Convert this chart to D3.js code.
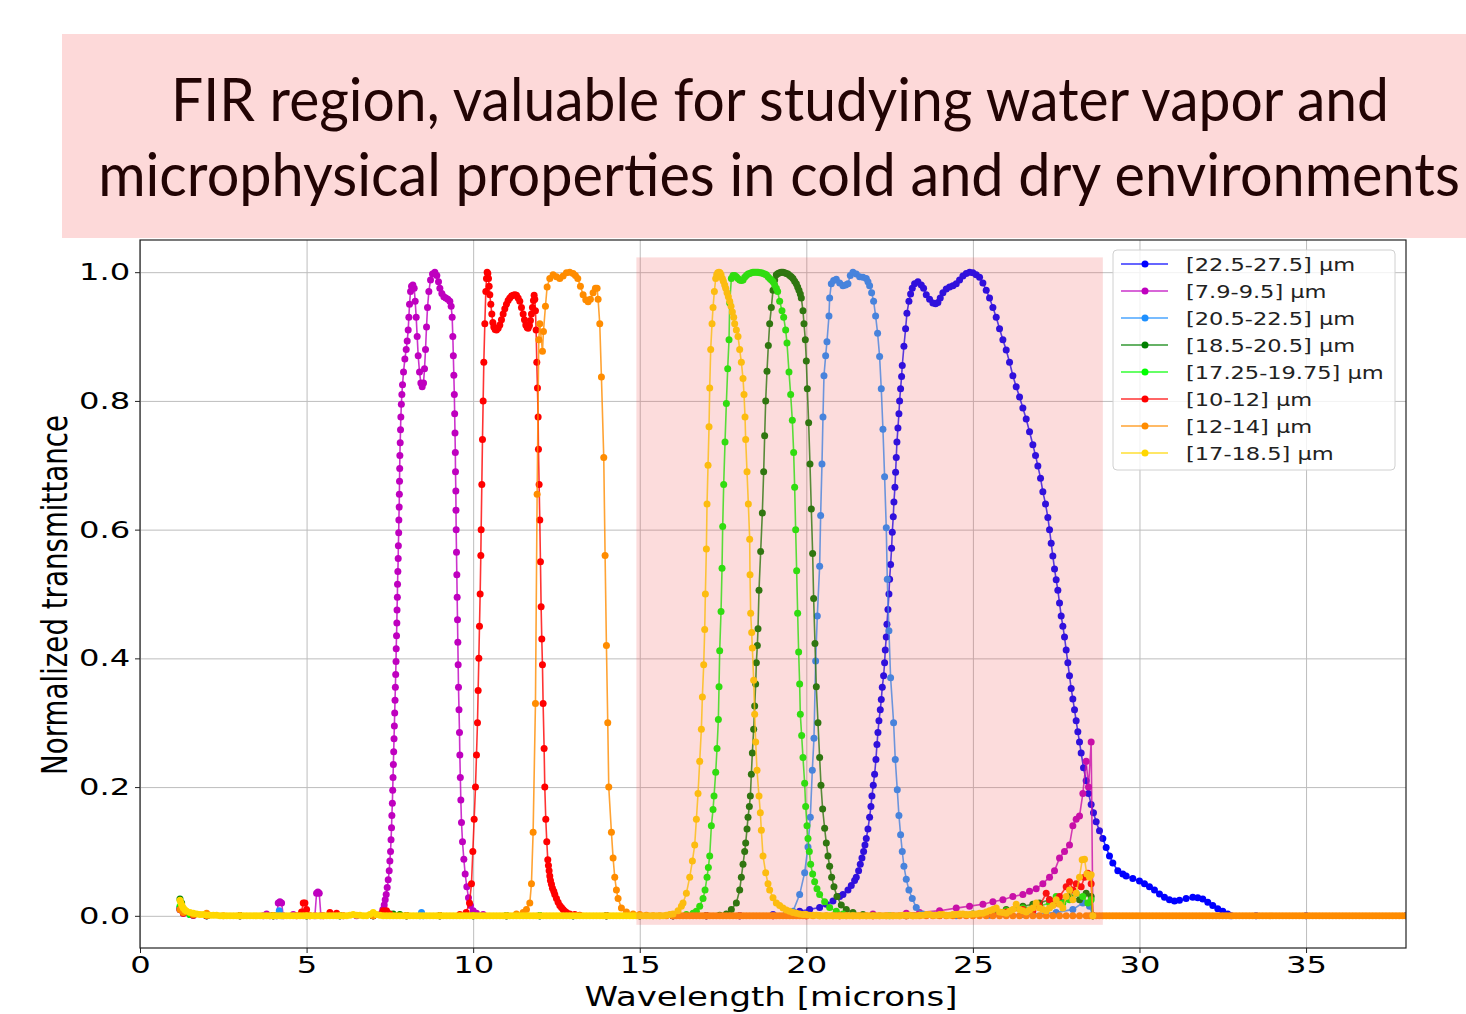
<!DOCTYPE html>
<html><head><meta charset="utf-8">
<script src="https://cdn.jsdelivr.net/npm/d3@7"></script>
<style>body{margin:0;background:#fff;} svg{display:block}</style>
</head><body>
<svg id="chart" width="1466" height="1014"></svg>
<script>
// ---------- DATA ----------
const titleLines = ["FIR region, valuable for studying water vapor and",
                    "microphysical properties in cold and dry environments"];
const xLabel = "Wavelength [microns]";
const yLabel = "Normalized transmittance";
const xTicks = [0, 5, 10, 15, 20, 25, 30, 35];
const yTicks = [0.0, 0.2, 0.4, 0.6, 0.8, 1.0];
const xDomain = [0, 38];
const yDomain = [-0.05, 1.05];
const firBandX = [14.9, 28.9];
const firBandY = [-0.014, 1.023];

const seriesNames = ["[22.5-27.5] µm", "[7.9-9.5] µm", "[20.5-22.5] µm", "[18.5-20.5] µm",
                     "[17.25-19.75] µm", "[10-12] µm", "[12-14] µm", "[17-18.5] µm"];

const band_22_5_27_5 = [[1.2,0.012],[1.3,0.006],[1.5,0.002],[2,0],[3,0],[4,0],[5,0],[6,0],[7,0],[8,0],[9,0],[10,0],[11,0],[12,0],[13,0],[14,0],[15,0],[16,0],[17,0],[18,0],[19,0.002],
[19.6,0.004],[19.8,0.007],[20.1,0.01],[20.4,0.013],[20.6,0.018],[20.8,0.023],[21.0,0.03],[21.1,0.033],[21.25,0.04],[21.35,0.047],[21.45,0.055],[21.5,0.06],[21.57,0.07],[21.62,0.08],[21.67,0.09],[21.72,0.1],[21.76,0.11],[21.8,0.12],[21.85,0.135],[21.9,0.153],[21.94,0.17],[21.97,0.186],[22.01,0.203],[22.05,0.22],[22.09,0.243],[22.12,0.266],[22.15,0.285],[22.18,0.303],[22.22,0.32],[22.25,0.336],[22.28,0.355],[22.32,0.373],[22.35,0.393],[22.37,0.413],[22.4,0.433],[22.42,0.453],[22.45,0.476],[22.48,0.5],[22.5,0.523],[22.53,0.546],[22.56,0.571],[22.58,0.596],[22.61,0.62],[22.63,0.643],[22.66,0.666],[22.68,0.689],[22.7,0.712],[22.72,0.736],[22.75,0.758],[22.78,0.78],[22.8,0.8],[22.83,0.819],[22.86,0.838],[22.88,0.855],[22.93,0.885],[22.98,0.912],[23.02,0.936],[23.08,0.955],[23.13,0.966],[23.18,0.975],[23.25,0.982],[23.35,0.985],[23.45,0.98],[23.52,0.975],[23.6,0.965],[23.7,0.958],[23.8,0.952],[23.88,0.951],[23.95,0.953],[24.02,0.96],[24.1,0.968],[24.2,0.974],[24.3,0.977],[24.4,0.979],[24.5,0.982],[24.6,0.988],[24.7,0.994],[24.8,0.998],[24.9,1.0],[25.0,0.999],[25.1,0.996],[25.2,0.992],[25.3,0.983],[25.4,0.972],[25.5,0.96],[25.6,0.945],[25.7,0.93],[25.8,0.912],[25.9,0.895],[26.0,0.879],[26.1,0.86],[26.2,0.839],[26.3,0.822],[26.4,0.806],[26.5,0.789],[26.6,0.772],[26.7,0.752],[26.8,0.732],[26.88,0.715],[26.95,0.699],[27.03,0.68],[27.1,0.659],[27.18,0.64],[27.25,0.619],[27.3,0.6],[27.35,0.579],[27.4,0.559],[27.45,0.539],[27.5,0.522],[27.55,0.506],[27.6,0.486],[27.65,0.466],[27.7,0.45],[27.75,0.433],[27.8,0.413],[27.85,0.393],[27.9,0.373],[27.95,0.353],[28.0,0.337],[28.05,0.32],[28.1,0.303],[28.15,0.286],[28.2,0.27],[28.25,0.253],[28.32,0.23],[28.4,0.21],[28.47,0.19],[28.55,0.173],[28.62,0.16],[28.7,0.146],[28.8,0.132],[28.9,0.12],[29.0,0.106],[29.1,0.093],[29.2,0.082],[29.35,0.07],[29.5,0.065],[29.6,0.062],[29.8,0.058],[30.0,0.054],[30.15,0.05],[30.3,0.045],[30.45,0.04],[30.6,0.034],[30.75,0.029],[30.9,0.025],[31.05,0.023],[31.2,0.024],[31.4,0.027],[31.6,0.029],[31.75,0.028],[31.9,0.026],[32.05,0.021],[32.2,0.016],[32.35,0.011],[32.5,0.007],[32.65,0.003],[32.75,0.0],[33.5,0],[35,0],[38,0]];

const band_7_9_9_5 = [[1.2,0.01],[1.3,0.004],[1.6,0.001],[2,0],[3,0],[3.7,0],[3.8,0.003],[3.9,0],[4.1,0],[4.15,0.02],[4.2,0.022],[4.25,0.02],[4.3,0],[4.6,0.002],[5.0,0],[5.25,0],[5.3,0.035],[5.34,0.037],[5.38,0.035],[5.43,0],[6,0],[6.5,0],[7.0,0.001],
[7.25,0.004],[7.29,0.01],[7.33,0.017],[7.36,0.025],[7.39,0.033],[7.42,0.044],[7.45,0.056],[7.48,0.07],[7.5,0.085],[7.52,0.1],[7.535,0.118],[7.55,0.137],[7.56,0.156],[7.575,0.175],[7.585,0.195],[7.595,0.215],[7.605,0.235],[7.615,0.255],[7.625,0.275],[7.635,0.295],[7.645,0.315],[7.655,0.335],[7.665,0.355],[7.675,0.375],[7.685,0.395],[7.69,0.415],[7.7,0.435],[7.71,0.455],[7.715,0.475],[7.725,0.495],[7.73,0.515],[7.74,0.535],[7.75,0.555],[7.755,0.575],[7.765,0.595],[7.77,0.615],[7.78,0.635],[7.785,0.655],[7.79,0.675],[7.795,0.695],[7.8,0.715],[7.81,0.735],[7.82,0.755],[7.83,0.775],[7.845,0.795],[7.86,0.81],[7.88,0.825],[7.91,0.845],[7.95,0.865],[7.99,0.88],[8.02,0.893],[8.05,0.91],[8.07,0.93],[8.09,0.95],[8.12,0.97],[8.15,0.978],[8.19,0.98],[8.23,0.975],[8.26,0.955],[8.29,0.93],[8.32,0.9],[8.35,0.87],[8.39,0.845],[8.43,0.828],[8.47,0.822],[8.51,0.828],[8.54,0.85],[8.57,0.88],[8.6,0.915],[8.63,0.945],[8.67,0.97],[8.72,0.988],[8.78,0.997],[8.85,1.0],[8.91,0.995],[8.96,0.985],[9.0,0.975],[9.06,0.967],[9.12,0.962],[9.18,0.96],[9.24,0.958],[9.3,0.955],[9.34,0.947],[9.37,0.93],[9.39,0.9],[9.405,0.87],[9.42,0.84],[9.435,0.81],[9.445,0.78],[9.455,0.75],[9.465,0.72],[9.47,0.69],[9.48,0.66],[9.485,0.63],[9.49,0.6],[9.5,0.565],[9.51,0.53],[9.52,0.495],[9.53,0.46],[9.54,0.425],[9.55,0.39],[9.56,0.355],[9.575,0.32],[9.59,0.285],[9.6,0.25],[9.615,0.215],[9.63,0.18],[9.65,0.145],[9.68,0.115],[9.72,0.088],[9.76,0.065],[9.81,0.045],[9.86,0.028],[9.92,0.016],[10.0,0.008],[10.1,0.004],[10.3,0.002],
[11,0],[12,0],[13,0],[14,0],[15,0],[16,0],[17,0],[18,0],[19,0],[20,0],[21.0,0.001],[22.0,0.003],[23.0,0.004],[23.4,0.005],[24.0,0.008],[24.5,0.012],[24.9,0.015],[25.3,0.018],[25.6,0.022],[25.9,0.025],[26.2,0.03],[26.5,0.033],[26.7,0.038],[26.9,0.042],[27.1,0.05],[27.3,0.06],[27.45,0.07],[27.6,0.09],[27.75,0.1],[27.9,0.11],[28.0,0.14],[28.1,0.15],[28.2,0.155],[28.3,0.19],[28.4,0.24],[28.47,0.2],[28.55,0.27],[28.6,0.0]];

const band_20_5_22_5 = [[1.2,0.01],[1.3,0.005],[1.6,0.001],[2,0],[3,0],[4,0],[4.1,0],[4.18,0.008],[4.25,0],[5,0],[6,0],[7,0],[8,0],[8.4,0],[8.45,0.005],[8.5,0],[9,0],[10,0],[11,0],[12,0],[13,0],[14,0],[15,0],[16,0],[17,0],[18,0],[19.0,0.001],[19.4,0.003],
[19.6,0.007],[19.8,0.033],[19.95,0.067],[20.05,0.107],[20.12,0.153],[20.18,0.226],[20.23,0.276],[20.28,0.396],[20.33,0.466],[20.4,0.543],[20.43,0.622],[20.47,0.702],[20.5,0.775],[20.53,0.839],[20.58,0.87],[20.62,0.892],[20.68,0.932],[20.7,0.96],[20.75,0.982],[20.82,0.987],[20.9,0.989],[21.0,0.983],[21.1,0.979],[21.18,0.98],[21.25,0.982],[21.32,0.995],[21.4,1.0],[21.5,0.997],[21.6,0.993],[21.7,0.992],[21.8,0.99],[21.85,0.985],[21.9,0.979],[21.96,0.968],[22.02,0.955],[22.08,0.932],[22.14,0.905],[22.2,0.869],[22.25,0.819],[22.3,0.756],[22.35,0.682],[22.4,0.603],[22.43,0.523],[22.48,0.443],[22.53,0.37],[22.62,0.3],[22.67,0.243],[22.73,0.196],[22.78,0.156],[22.83,0.126],[22.88,0.1],[22.93,0.077],[23.0,0.057],[23.08,0.04],[23.18,0.027],[23.3,0.013],[23.5,0.003],[23.8,0.001],
[24.5,0],[25.5,0.001],[26.5,0.002],[27.5,0.005],[28.0,0.01],[28.3,0.02],[28.5,0.015],[28.6,0]];

const band_18_5_20_5 = [[1.2,0.026],[1.25,0.02],[1.3,0.01],[1.5,0.003],[2,0],[3,0],[4,0],[5,0],[6,0],[7,0],[7.6,0.003],[7.8,0.002],[8,0],[9,0],[10,0],[11,0],[12,0],[13,0],[14,0],[15,0],[16,0],[17,0],[17.4,0.001],
[17.6,0.003],[17.75,0.01],[17.9,0.02],[18.0,0.04],[18.05,0.06],[18.1,0.08],[18.15,0.1],[18.18,0.113],[18.22,0.135],[18.25,0.153],[18.29,0.17],[18.32,0.186],[18.35,0.22],[18.38,0.253],[18.42,0.29],[18.45,0.326],[18.48,0.36],[18.5,0.393],[18.53,0.42],[18.55,0.446],[18.58,0.506],[18.63,0.566],[18.68,0.626],[18.72,0.69],[18.75,0.746],[18.78,0.8],[18.82,0.846],[18.86,0.886],[18.9,0.92],[18.95,0.945],[19.0,0.972],[19.05,0.988],[19.1,0.996],[19.15,0.998],[19.2,0.999],[19.25,1.0],[19.3,1.0],[19.35,0.999],[19.4,0.998],[19.45,0.997],[19.5,0.995],[19.55,0.993],[19.6,0.99],[19.65,0.986],[19.7,0.982],[19.74,0.977],[19.78,0.972],[19.82,0.966],[19.85,0.96],[19.9,0.94],[19.93,0.92],[19.97,0.895],[20.0,0.862],[20.03,0.819],[20.07,0.766],[20.11,0.702],[20.15,0.632],[20.19,0.563],[20.22,0.493],[20.26,0.423],[20.3,0.356],[20.35,0.3],[20.4,0.246],[20.44,0.203],[20.49,0.166],[20.55,0.136],[20.6,0.113],[20.65,0.093],[20.7,0.077],[20.76,0.06],[20.83,0.045],[20.92,0.03],[21.05,0.017],[21.2,0.01],[21.4,0.005],[21.7,0.002],[22.0,0.001],
[23,0],[24,0.001],[25.0,0.003],[25.5,0.006],[26.0,0.01],[26.5,0.015],[26.8,0.018],[27.0,0.02],[27.3,0.025],[27.6,0.022],[27.9,0.03],[28.2,0.025],[28.4,0.035],[28.55,0.03],[28.6,0]];

const band_17_25_19_75 = [[1.2,0.015],[1.3,0.008],[1.5,0.002],[2,0],[3,0],[4,0],[5,0],[6,0],[7,0],[7.5,0.003],[8,0],[9,0],[10,0],[11,0],[12,0],[13,0],[14,0],[15,0],[16,0],[16.4,0.002],
[16.6,0.004],[16.7,0.007],[16.8,0.015],[16.9,0.027],[16.96,0.04],[17.02,0.06],[17.06,0.075],[17.1,0.093],[17.15,0.14],[17.2,0.165],[17.23,0.186],[17.28,0.223],[17.32,0.26],[17.36,0.305],[17.38,0.356],[17.4,0.412],[17.44,0.473],[17.47,0.54],[17.49,0.605],[17.52,0.67],[17.56,0.736],[17.6,0.796],[17.64,0.85],[17.68,0.895],[17.7,0.952],[17.75,0.99],[17.8,0.995],[17.85,0.995],[17.9,0.993],[17.95,0.99],[18.0,0.988],[18.05,0.987],[18.1,0.988],[18.15,0.992],[18.2,0.995],[18.25,0.997],[18.3,0.998],[18.35,0.999],[18.4,1.0],[18.45,1.0],[18.5,1.0],[18.55,1.0],[18.6,0.999],[18.65,0.999],[18.7,0.998],[18.75,0.997],[18.8,0.996],[18.85,0.993],[18.9,0.99],[18.95,0.988],[19.0,0.985],[19.05,0.98],[19.1,0.975],[19.14,0.97],[19.2,0.955],[19.27,0.94],[19.32,0.93],[19.38,0.91],[19.42,0.89],[19.48,0.845],[19.53,0.81],[19.58,0.77],[19.62,0.72],[19.65,0.666],[19.68,0.6],[19.71,0.536],[19.74,0.47],[19.77,0.41],[19.8,0.36],[19.82,0.313],[19.86,0.28],[19.9,0.246],[19.95,0.206],[19.98,0.17],[20.02,0.14],[20.05,0.12],[20.09,0.1],[20.13,0.08],[20.19,0.065],[20.25,0.053],[20.32,0.042],[20.4,0.033],[20.55,0.022],[20.7,0.013],[20.9,0.007],[21.1,0.003],[21.4,0.001],
[22.5,0],[24,0.001],[25.5,0.004],[26.0,0.008],[26.5,0.012],[27.0,0.015],[27.3,0.02],[27.5,0.03],[27.7,0.02],[27.9,0.025],[28.1,0.035],[28.3,0.03],[28.45,0.02],[28.55,0.025],[28.6,0]];

const band_10_12 = [[1.2,0.01],[1.3,0.004],[1.6,0.001],[2,0],[3,0],[4,0],[4.7,0],[4.85,0.006],[4.9,0.02],[4.95,0.02],[5.0,0.01],[5.1,0],[5.5,0],[5.7,0.005],[5.9,0.004],[6.1,0],[7,0],[7.3,0.008],[7.4,0.008],[7.5,0.003],[8,0],[9,0],[9.6,0.002],
[9.79,0.005],[9.89,0.02],[9.95,0.05],[9.99,0.1],[10.03,0.15],[10.07,0.2],[10.1,0.25],[10.13,0.3],[10.15,0.35],[10.17,0.4],[10.19,0.45],[10.21,0.5],[10.23,0.56],[10.24,0.6],[10.26,0.67],[10.28,0.74],[10.3,0.8],[10.32,0.86],[10.35,0.92],[10.38,0.97],[10.4,0.99],[10.42,1.0],[10.44,0.998],[10.46,0.99],[10.48,0.978],[10.5,0.965],[10.53,0.95],[10.56,0.935],[10.59,0.922],[10.62,0.915],[10.66,0.911],[10.7,0.91],[10.75,0.913],[10.8,0.918],[10.85,0.926],[10.9,0.935],[10.95,0.943],[11.0,0.95],[11.05,0.956],[11.1,0.96],[11.15,0.963],[11.2,0.964],[11.25,0.965],[11.3,0.964],[11.35,0.96],[11.4,0.955],[11.45,0.945],[11.5,0.935],[11.54,0.926],[11.58,0.918],[11.62,0.914],[11.65,0.913],[11.69,0.917],[11.72,0.925],[11.75,0.935],[11.78,0.945],[11.81,0.956],[11.83,0.964],[11.85,0.958],[11.87,0.94],[11.89,0.91],[11.91,0.86],[11.93,0.82],[11.95,0.775],[11.96,0.725],[11.98,0.67],[12.0,0.615],[12.02,0.55],[12.04,0.48],[12.06,0.43],[12.08,0.39],[12.1,0.33],[12.13,0.26],[12.15,0.2],[12.18,0.15],[12.21,0.115],[12.24,0.087],[12.26,0.078],[12.28,0.07],[12.3,0.062],[12.32,0.055],[12.35,0.049],[12.38,0.043],[12.42,0.038],[12.45,0.033],[12.5,0.027],[12.55,0.021],[12.6,0.016],[12.65,0.013],[12.7,0.01],[12.75,0.007],[12.8,0.005],[12.9,0.003],[13.05,0.002],[13.2,0.001],
[14,0],[15,0],[16,0],[17,0],[18,0],[19,0],[20,0],[21,0],[22,0],[23,0],[24,0.001],[25.5,0.003],[26.0,0.006],[26.5,0.01],[26.8,0.008],[27.0,0.015],[27.2,0.035],[27.3,0.025],[27.5,0.02],[27.6,0.03],[27.8,0.045],[27.9,0.053],[28.0,0.04],[28.1,0.05],[28.25,0.045],[28.35,0.06],[28.45,0.066],[28.55,0.05],[28.6,0.0]];

const band_12_14 = [[1.2,0.01],[1.3,0.005],[1.6,0.002],[2.0,0.004],[2.5,0],[3,0],[4,0],[5,0],[6,0],[7,0],[8,0],[9,0],[10,0],[11,0],[11.3,0.003],
[11.5,0.005],[11.6,0.01],[11.7,0.02],[11.75,0.05],[11.8,0.13],[11.87,0.33],[11.92,0.655],[11.97,0.895],[12.0,0.92],[12.08,0.877],[12.11,0.908],[12.17,0.947],[12.22,0.977],[12.3,0.99],[12.4,0.996],[12.5,0.993],[12.6,0.99],[12.7,0.994],[12.8,0.999],[12.9,1.0],[13.0,0.998],[13.07,0.995],[13.14,0.99],[13.22,0.978],[13.3,0.965],[13.38,0.957],[13.45,0.954],[13.52,0.958],[13.6,0.968],[13.67,0.975],[13.72,0.975],[13.75,0.958],[13.8,0.92],[13.85,0.837],[13.92,0.712],[13.96,0.56],[14.0,0.42],[14.04,0.3],[14.07,0.2],[14.15,0.13],[14.2,0.09],[14.25,0.06],[14.3,0.04],[14.35,0.027],[14.45,0.012],[14.6,0.006],[14.8,0.003],[15.0,0.002],[15.2,0.001],
[15.4,0],[15.6,0],[15.8,0],[16.0,0],[16.1,0],[16.2,0],[16.3,0],[16.4,0],[16.5,0],[16.6,0],[16.7,0],[16.8,0],[16.9,0],[17.0,0],[17.1,0],[17.2,0],[17.3,0],[17.4,0],[17.5,0],[17.6,0],[17.7,0],[17.8,0],[17.9,0],[18.0,0],[18.1,0],[18.2,0],[18.3,0],[18.4,0],[18.5,0],[18.6,0],[18.7,0],[18.8,0],[18.9,0],[19.0,0],[19.1,0],[19.2,0],[19.3,0],[19.4,0],[19.5,0],[19.6,0],[19.7,0],[19.8,0],[19.9,0],[20.0,0],[20.2,0],[20.4,0],[20.6,0],[20.8,0],[21.0,0],[21.2,0],[21.4,0],[21.6,0],[21.8,0],[22.0,0],[22.2,0],[22.4,0],[22.6,0],[22.8,0],[23.0,0],[23.2,0],[23.4,0],[23.6,0],[23.8,0],[24.0,0],[24.2,0],[24.4,0],[24.6,0],[24.8,0],[25.0,0],[25.2,0],[25.4,0],[25.6,0],[25.8,0],[26.0,0],[26.2,0],[26.4,0],[26.6,0],[26.8,0],[27.0,0],[27.2,0],[27.4,0],[27.6,0],[27.8,0],[28.0,0],[28.2,0],[28.4,0],
[28.5,0],[28.6,0],[28.7,0],[28.8,0],[28.9,0],[29.0,0],[29.1,0],[29.2,0],[29.3,0],[29.4,0],[29.5,0],[29.6,0],[29.7,0],[29.8,0],[29.9,0],[30.0,0],[30.1,0],[30.2,0],[30.3,0],[30.4,0],[30.5,0],[30.6,0],[30.7,0],[30.8,0],[30.9,0],[31.0,0],[31.1,0],[31.2,0],[31.3,0],[31.4,0],[31.5,0],[31.6,0],[31.7,0],[31.8,0],[31.9,0],[32.0,0],[32.1,0],[32.2,0],[32.3,0],[32.4,0],[32.5,0],[32.6,0],[32.7,0],[32.8,0],[32.9,0],[33.0,0],[33.1,0],[33.2,0],[33.3,0],[33.4,0],[33.5,0],[33.6,0],[33.7,0],[33.8,0],[33.9,0],[34.0,0],[34.1,0],[34.2,0],[34.3,0],[34.4,0],[34.5,0],[34.6,0],[34.7,0],[34.8,0],[34.9,0],[35.0,0],[35.1,0],[35.2,0],[35.3,0],[35.4,0],[35.5,0],[35.6,0],[35.7,0],[35.8,0],[35.9,0],[36.0,0],[36.1,0],[36.2,0],[36.3,0],[36.4,0],[36.5,0],[36.6,0],[36.7,0],[36.8,0],[36.9,0],[37.0,0],[37.1,0],[37.2,0],[37.3,0],[37.4,0],[37.5,0],[37.6,0],[37.7,0],[37.8,0],[37.9,0],[38.0,0]];

const band_17_18_5 = [[1.2,0.024],[1.23,0.02],[1.26,0.016],[1.3,0.012],[1.35,0.009],[1.4,0.007],[1.5,0.005],[1.6,0.004],[1.7,0.003],[1.8,0.002],[1.9,0.002],[2.0,0.001],[2.1,0.001],
[2.2,0.001],[2.3,0.001],[2.4,0],[2.5,0],[2.6,0],[2.7,0],[2.8,0],[2.9,0],[3.0,0],[3.1,0],[3.2,0],[3.3,0],[3.4,0],[3.5,0],[3.6,0],[3.7,0],[3.8,0],[3.9,0],[4.0,0],[4.1,0],[4.2,0],[4.3,0],[4.4,0],[4.5,0],[4.6,0],[4.7,0],[4.8,0],[4.9,0],[5.0,0],[5.1,0],[5.2,0],[5.3,0],[5.4,0],[5.5,0],[5.6,0],[5.7,0],[5.8,0],[5.9,0],[6.0,0],[6.1,0],[6.2,0],[6.3,0.001],[6.4,0.002],[6.5,0.001],[6.6,0.001],[6.7,0],[6.8,0],[6.9,0.002],[7.0,0.005],[7.1,0.002],[7.2,0.001],[7.3,0],[7.4,0],[7.5,0],[7.6,0],[7.7,0],[7.8,0],[7.9,0],[8.0,0],[8.1,0],[8.2,0],[8.3,0],[8.4,0],[8.5,0],[8.6,0],[8.7,0],[8.8,0],[8.9,0],[9.0,0],[9.1,0],[9.2,0],[9.3,0],[9.4,0],[9.5,0],[9.6,0],[9.7,0],[9.8,0],[9.9,0],[10.0,0],[10.1,0],[10.2,0],[10.3,0],[10.4,0],[10.5,0],[10.6,0],[10.7,0],[10.8,0],[10.9,0],[11.0,0],[11.1,0],[11.2,0],[11.3,0],[11.4,0],[11.5,0],[11.6,0],[11.7,0],[11.8,0],[11.9,0],[12.0,0],[12.1,0],[12.2,0],[12.3,0],[12.4,0],[12.5,0],[12.6,0],[12.7,0],[12.8,0],[12.9,0],[13.0,0],[13.1,0],[13.2,0],[13.3,0],[13.4,0],[13.5,0],[13.6,0],[13.7,0],[13.8,0],[13.9,0],[14.0,0],[14.1,0],[14.2,0],[14.3,0],[14.4,0],[14.5,0],[14.6,0],[14.7,0],[14.8,0],[14.9,0],[15.0,0],[15.1,0],[15.2,0],[15.3,0],[15.4,0],[15.5,0],[15.6,0],[15.7,0],[15.8,0.001],[15.9,0.002],[16.0,0.003],
[16.15,0.008],[16.25,0.015],[16.3,0.02],[16.4,0.035],[16.5,0.06],[16.58,0.085],[16.65,0.11],[16.7,0.15],[16.75,0.19],[16.8,0.24],[16.85,0.29],[16.88,0.34],[16.92,0.39],[16.95,0.445],[16.97,0.5],[17.0,0.57],[17.02,0.64],[17.05,0.7],[17.08,0.76],[17.1,0.82],[17.13,0.88],[17.17,0.92],[17.2,0.945],[17.24,0.97],[17.28,0.99],[17.31,0.996],[17.34,0.999],[17.38,1.0],[17.41,0.999],[17.44,0.996],[17.48,0.99],[17.51,0.986],[17.55,0.98],[17.58,0.975],[17.62,0.968],[17.66,0.962],[17.7,0.955],[17.74,0.947],[17.78,0.938],[17.82,0.93],[17.85,0.92],[17.9,0.91],[17.95,0.9],[18.0,0.88],[18.05,0.86],[18.1,0.835],[18.13,0.81],[18.16,0.775],[18.18,0.74],[18.22,0.69],[18.26,0.64],[18.3,0.585],[18.31,0.53],[18.33,0.47],[18.36,0.44],[18.38,0.416],[18.42,0.366],[18.45,0.313],[18.48,0.27],[18.52,0.226],[18.58,0.186],[18.62,0.16],[18.65,0.133],[18.7,0.093],[18.78,0.067],[18.85,0.05],[18.9,0.04],[19.0,0.028],[19.1,0.02],[19.2,0.016],[19.3,0.012],[19.4,0.009],[19.5,0.007],[19.6,0.005],[19.7,0.004],[19.8,0.003],[19.9,0.002],
[20.0,0.002],[20.1,0.001],[20.2,0.001],[20.3,0.001],[20.4,0],[20.5,0],[20.6,0],[20.7,0],[20.8,0],[20.9,0],[21.0,0],[21.1,0],[21.2,0],[21.3,0],[21.4,0],[21.5,0],[21.6,0],[21.7,0],[21.8,0],[21.9,0],[22.0,0],[22.1,0],[22.2,0],[22.3,0],[22.4,0],[22.5,0],[22.6,0],[22.7,0],[22.8,0],[22.9,0.001],[23.0,0.001],[23.1,0.001],[23.2,0],[23.3,0],[23.4,0.001],[23.5,0.001],[23.6,0.002],[23.7,0.002],[23.8,0.001],[23.9,0.001],[24.0,0.002],[24.1,0.002],[24.2,0.001],[24.3,0.001],[24.4,0.002],[24.5,0.002],[24.6,0.003],[24.7,0.003],[24.8,0.002],[24.9,0.002],[25.0,0.003],[25.1,0.003],[25.2,0.004],[25.3,0.004],[25.4,0.006],[25.5,0.008],[25.6,0.01],[25.7,0.012],[25.8,0.006],[25.9,0.005],[26.0,0.004],[26.1,0.007],[26.2,0.01],[26.3,0.018],[26.4,0.01],[26.5,0.008],[26.6,0.006],[26.7,0.009],[26.8,0.012],[26.9,0.02],[27.0,0.012],[27.1,0.01],[27.2,0.008],[27.3,0.012],[27.4,0.016],[27.5,0.025],[27.6,0.018],[27.7,0.012],[27.8,0.03],[27.9,0.04],[28.0,0.025],[28.1,0.035],[28.2,0.06],[28.28,0.087],[28.35,0.088],[28.42,0.065],[28.5,0.06],[28.55,0.064],[28.6,0.0]];

const seriesData = [band_22_5_27_5, band_7_9_9_5, band_20_5_22_5, band_18_5_20_5,
                    band_17_25_19_75, band_10_12, band_12_14, band_17_18_5];

// ---------- STYLES ----------
const seriesColors = ["#0000ff", "#bf00bf", "#1e90ff", "#008000", "#00ff00", "#ff0000", "#ff8c00", "#ffd700"];

// ---------- DRAW ----------
const svg = d3.select("#chart");
const M = {l: 140, r: 1406, t: 240, b: 948};
const x = d3.scaleLinear().domain(xDomain).range([M.l, M.r]);
const y = d3.scaleLinear().domain(yDomain).range([M.b, M.t]);

// title: font size chosen so the natural width fits the target width,
// then a vertical scale restores the glyph height of a 60px face.
svg.append("rect").attr("x", 62).attr("y", 34).attr("width", 1404).attr("height", 204).attr("fill", "#fdd9d9");
const titleWidths = [1218, 1362];
const titleCenters = [780, 779];
titleLines.forEach((t, i) => {
  const el = svg.append("text").attr("text-anchor", "middle")
    .attr("font-family", "Lato, 'Open Sans', sans-serif")
    .attr("font-size", 60).attr("fill", "#220404").text(t);
  const natural = el.node().getComputedTextLength();
  const fs = 60 * titleWidths[i] / natural;
  el.attr("font-size", fs)
    .attr("transform", `translate(${titleCenters[i]},${121 + i * 75}) scale(1,${60 / fs})`);
});

// grid
const grid = svg.append("g");
grid.append("g").attr("transform", `translate(0,${M.b})`)
  .call(d3.axisBottom(x).tickValues(xTicks).tickSize(-(M.b - M.t)).tickFormat(""))
  .call(g => g.select(".domain").remove())
  .call(g => g.selectAll("line").attr("stroke", "#bdbdbd").attr("stroke-width", 1));
grid.append("g").attr("transform", `translate(${M.l},0)`)
  .call(d3.axisLeft(y).tickValues(yTicks).tickSize(-(M.r - M.l)).tickFormat(""))
  .call(g => g.select(".domain").remove())
  .call(g => g.selectAll("line").attr("stroke", "#bdbdbd").attr("stroke-width", 1));

// plot
svg.append("clipPath").attr("id", "clip").append("rect")
  .attr("x", M.l).attr("y", M.t).attr("width", M.r - M.l).attr("height", M.b - M.t);
const plot = svg.append("g").attr("clip-path", "url(#clip)");
const line = d3.line().x(d => x(d[0])).y(d => y(d[1]));
seriesData.forEach((raw, i) => {
  const s = raw.slice().sort((a, b) => a[0] - b[0]);
  const g = plot.append("g");
  g.append("path").datum(s).attr("d", line).attr("fill", "none")
    .attr("stroke", seriesColors[i]).attr("stroke-width", 1.6).attr("stroke-opacity", 0.8);
  g.selectAll("circle").data(s).join("circle")
    .attr("cx", d => x(d[0])).attr("cy", d => y(d[1])).attr("r", 3.5)
    .attr("fill", seriesColors[i]);
});

// FIR band overlay
svg.append("rect")
  .attr("x", x(firBandX[0])).attr("width", x(firBandX[1]) - x(firBandX[0]))
  .attr("y", y(firBandY[1])).attr("height", y(firBandY[0]) - y(firBandY[1]))
  .attr("fill", "rgb(240,80,80)").attr("fill-opacity", 0.2);

// spines
svg.append("rect").attr("x", M.l).attr("y", M.t).attr("width", M.r - M.l).attr("height", M.b - M.t)
  .attr("fill", "none").attr("stroke", "#222").attr("stroke-width", 1.2);

// axes
const tickFont = g => g.selectAll("text").attr("font-family", "DejaVu Sans").attr("font-size", 23)
  .attr("fill", "#000").attr("transform", "scale(1.4,1)");
svg.append("g").attr("transform", `translate(0,${M.b})`)
  .call(d3.axisBottom(x).tickValues(xTicks).tickSize(5).tickPadding(4).tickFormat(d3.format("d")))
  .call(g => g.select(".domain").remove())
  .call(g => g.selectAll("line").attr("stroke", "#222"))
  .call(tickFont);
svg.append("g").attr("transform", `translate(${M.l},0)`)
  .call(d3.axisLeft(y).tickValues(yTicks).tickSize(5).tickPadding(2).tickFormat(d3.format(".1f")))
  .call(g => g.select(".domain").remove())
  .call(g => g.selectAll("line").attr("stroke", "#222"))
  .call(tickFont);

// axis labels
svg.append("text").attr("x", 771).attr("y", 1006).attr("text-anchor", "middle")
  .attr("font-family", "DejaVu Sans").attr("font-size", 26).attr("fill", "#000")
  .attr("textLength", 373).attr("lengthAdjust", "spacingAndGlyphs").text(xLabel);
svg.append("text").attr("transform", "translate(67,595) scale(1.4,1) rotate(-90)")
  .attr("text-anchor", "middle").attr("font-family", "DejaVu Sans").attr("font-size", 25.5)
  .attr("fill", "#000").attr("textLength", 360).attr("lengthAdjust", "spacingAndGlyphs").text(yLabel);

// legend
const lg = svg.append("g");
lg.append("rect").attr("x", 1113).attr("y", 250).attr("width", 282).attr("height", 220).attr("rx", 4)
  .attr("fill", "#fff").attr("fill-opacity", 0.8).attr("stroke", "#d0d0d0").attr("stroke-width", 1);
seriesNames.forEach((name, i) => {
  const yy = 264 + i * 27;
  const e = lg.append("g").attr("transform", `translate(0,${yy})`);
  e.append("line").attr("x1", 1121).attr("x2", 1168).attr("y1", 0).attr("y2", 0)
    .attr("stroke", seriesColors[i]).attr("stroke-width", 1.6).attr("stroke-opacity", 0.8);
  e.append("circle").attr("cx", 1145).attr("cy", 0).attr("r", 3.5).attr("fill", seriesColors[i]);
  e.append("text").attr("transform", "translate(1186,6.5) scale(1.25,1)")
    .attr("font-family", "DejaVu Sans").attr("font-size", 18).attr("fill", "#222").text(name);
});
</script>
</body></html>
